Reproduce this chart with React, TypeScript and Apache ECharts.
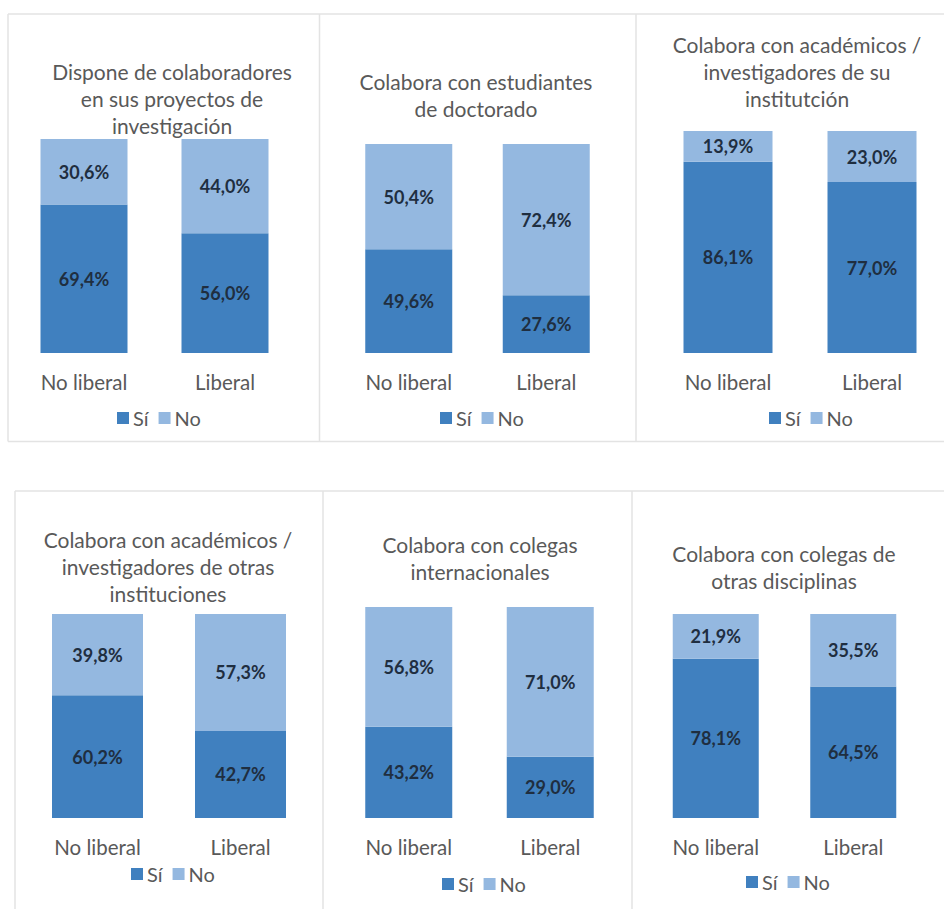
import React, { useEffect, useRef } from "react";
import * as echarts from "echarts";

const categories = ["No liberal", "Liberal"];
const legendNames = ["Sí", "No"];
const panelTitles = [
  "Dispone de colaboradores\nen sus proyectos de\ninvestigación",
  "Colabora con estudiantes\nde doctorado",
  "Colabora con académicos /\ninvestigadores de su\ninstitutción",
  "Colabora con académicos /\ninvestigadores de otras\ninstituciones",
  "Colabora con colegas\ninternacionales",
  "Colabora con colegas de\notras disciplinas",
];
const siValues = [
  [69.4, 56.0],
  [49.6, 27.6],
  [86.1, 77.0],
  [60.2, 42.7],
  [43.2, 29.0],
  [78.1, 64.5],
];
const noValues = [
  [30.6, 44.0],
  [50.4, 72.4],
  [13.9, 23.0],
  [39.8, 57.3],
  [56.8, 71.0],
  [21.9, 35.5],
];

// layout (pixels)
const layout = [
  { gl: 13.5, gw: 282, gt: 139, gb: 353, bw: 87, tx: 172, ty: 58, lx: 160, ly: 419 },
  { gl: 340, gw: 275, gt: 144, gb: 353, bw: 87, tx: 476, ty: 68, lx: 483, ly: 419 },
  { gl: 656, gw: 288, gt: 131, gb: 353, bw: 89, tx: 797, ty: 31, lx: 812, ly: 419 },
  { gl: 26, gw: 286, gt: 614, gb: 818, bw: 91, tx: 168, ty: 526, lx: 174, ly: 875 },
  { gl: 338, gw: 283, gt: 607, gb: 818, bw: 87, tx: 480, ty: 531, lx: 485, ly: 885 },
  { gl: 647, gw: 275, gt: 614, gb: 818, bw: 86, tx: 784, ty: 540, lx: 789, ly: 883 },
];

const W = 944;
const H = 909;
const DARK = "#4080BF";
const LIGHT = "#94B8E0";
const FONT = "Lato";
const fmt = (p: any) => p.value.toFixed(1).replace(".", ",") + "%";

export default function App() {
  const ref = useRef<HTMLDivElement>(null);
  useEffect(() => {
    if (!ref.current) return;
    const chart = echarts.init(ref.current, null, { renderer: "svg" });
    const grids: any[] = [];
    const xAxes: any[] = [];
    const yAxes: any[] = [];
    const series: any[] = [];
    const titles: any[] = [];
    const legends: any[] = [];
    layout.forEach((l, i) => {
      grids.push({ left: l.gl, width: l.gw, top: l.gt, height: l.gb - l.gt, containLabel: false });
      xAxes.push({
        type: "category",
        gridIndex: i,
        data: categories,
        axisLine: { show: false },
        axisTick: { show: false },
        axisLabel: { color: "#595959", fontSize: 20.5, fontFamily: FONT, margin: 18 },
      });
      yAxes.push({ type: "value", gridIndex: i, min: 0, max: 100, show: false, splitLine: { show: false } });
      const labelCfg = {
        show: true,
        position: "inside",
        formatter: fmt,
        color: "#1F2E40",
        fontWeight: "bold",
        fontSize: 18,
        fontFamily: FONT,
      };
      series.push({
        type: "bar",
        name: legendNames[0],
        xAxisIndex: i,
        yAxisIndex: i,
        stack: "s" + i,
        barWidth: l.bw,
        data: siValues[i],
        itemStyle: { color: DARK },
        label: labelCfg,
      });
      series.push({
        type: "bar",
        name: legendNames[1],
        xAxisIndex: i,
        yAxisIndex: i,
        stack: "s" + i,
        barWidth: l.bw,
        data: noValues[i],
        itemStyle: { color: LIGHT },
        label: labelCfg,
      });
      titles.push({
        text: panelTitles[i],
        left: l.tx,
        top: l.ty,
        textAlign: "center",
        padding: 0,
        textStyle: { color: "#595959", fontSize: 21, fontWeight: "normal", fontFamily: FONT, lineHeight: 27 },
      });
      legends.push({
        data: legendNames,
        left: l.lx - 43,
        top: l.ly - 11,
        itemWidth: 12,
        itemHeight: 12,
        itemGap: 10,
        padding: 0,
        icon: "rect",
        selectedMode: false,
        textStyle: { color: "#595959", fontSize: 20, fontFamily: FONT, padding: [0, 0, 0, -1] },
      });
    });
    const stroke = { stroke: "#E3E3E3", lineWidth: 1.5 };
    const ln = (x1: number, y1: number, x2: number, y2: number) => ({
      type: "line",
      shape: { x1, y1, x2, y2 },
      style: stroke,
      silent: true,
      z: -10,
    });
    const graphic = [
      ln(8, 14, W, 14),
      ln(8, 441.5, W, 441.5),
      ln(8, 14, 8, 441.5),
      ln(319.5, 14, 319.5, 441.5),
      ln(636, 14, 636, 441.5),
      ln(15, 491, W, 491),
      ln(15, 491, 15, H),
      ln(323, 491, 323, H),
      ln(632, 491, 632, H),
    ];
    chart.setOption({
      animation: false,
      backgroundColor: "#FFFFFF",
      title: titles,
      legend: legends,
      grid: grids,
      xAxis: xAxes,
      yAxis: yAxes,
      series,
      graphic,
    });
    return () => chart.dispose();
  }, []);
  return <div ref={ref} style={{ position: "absolute", left: 0, top: 0, width: W, height: H }} />;
}
